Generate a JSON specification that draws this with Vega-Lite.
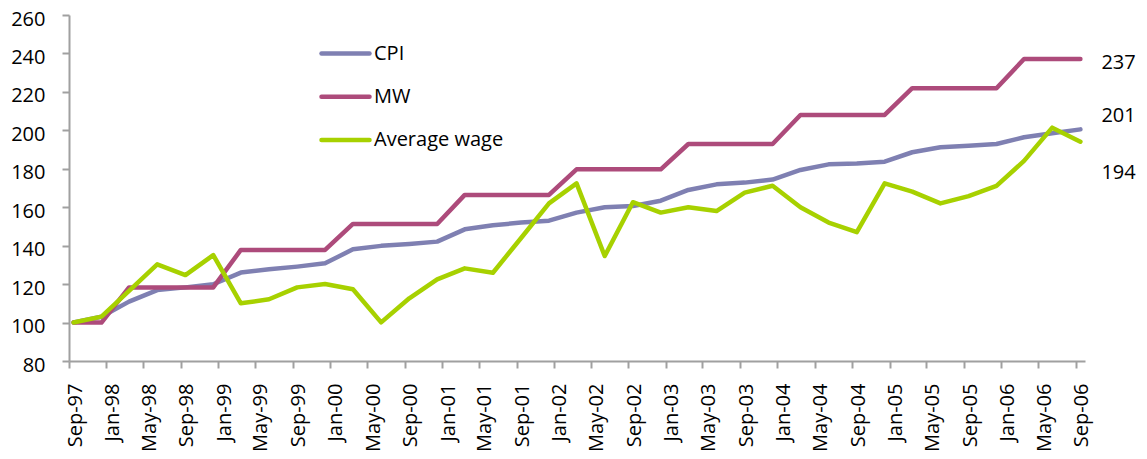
{
  "$schema": "https://vega.github.io/schema/vega-lite/v6.json",
  "width": 1016,
  "height": 346,
  "autosize": {"type": "none"},
  "padding": {"left": 69, "top": 15, "right": 62, "bottom": 98},
  "background": "white",
  "config": {"view": {"stroke": null}, "font": "Open Sans"},
  "layer": [
    {
      "data": {
        "values": [
          {"date": "1997-09-16T00:00:00", "CPI": 100.0, "MW": 100.0, "Average wage": 100.0},
          {"date": "1997-12-16T00:00:00", "CPI": 103.0, "MW": 100.0, "Average wage": 103.1},
          {"date": "1998-03-16T00:00:00", "CPI": 110.9, "MW": 118.3, "Average wage": 116.5},
          {"date": "1998-06-16T00:00:00", "CPI": 116.9, "MW": 118.3, "Average wage": 130.3},
          {"date": "1998-09-16T00:00:00", "CPI": 118.3, "MW": 118.3, "Average wage": 124.7},
          {"date": "1998-12-16T00:00:00", "CPI": 119.9, "MW": 118.3, "Average wage": 135.1},
          {"date": "1999-03-16T00:00:00", "CPI": 126.0, "MW": 137.8, "Average wage": 110.0},
          {"date": "1999-06-16T00:00:00", "CPI": 127.7, "MW": 137.8, "Average wage": 112.1},
          {"date": "1999-09-16T00:00:00", "CPI": 129.1, "MW": 137.8, "Average wage": 118.3},
          {"date": "1999-12-16T00:00:00", "CPI": 130.8, "MW": 137.8, "Average wage": 120.1},
          {"date": "2000-03-16T00:00:00", "CPI": 138.1, "MW": 151.3, "Average wage": 117.3},
          {"date": "2000-06-16T00:00:00", "CPI": 139.9, "MW": 151.3, "Average wage": 100.1},
          {"date": "2000-09-16T00:00:00", "CPI": 140.9, "MW": 151.3, "Average wage": 112.6},
          {"date": "2000-12-16T00:00:00", "CPI": 142.1, "MW": 151.3, "Average wage": 122.5},
          {"date": "2001-03-16T00:00:00", "CPI": 148.5, "MW": 166.4, "Average wage": 128.2},
          {"date": "2001-06-16T00:00:00", "CPI": 150.6, "MW": 166.4, "Average wage": 125.9},
          {"date": "2001-09-16T00:00:00", "CPI": 152.0, "MW": 166.4, "Average wage": 144.0},
          {"date": "2001-12-16T00:00:00", "CPI": 153.0, "MW": 166.4, "Average wage": 162.0},
          {"date": "2002-03-16T00:00:00", "CPI": 157.2, "MW": 179.7, "Average wage": 172.4},
          {"date": "2002-06-16T00:00:00", "CPI": 160.0, "MW": 179.7, "Average wage": 134.6},
          {"date": "2002-09-16T00:00:00", "CPI": 160.6, "MW": 179.7, "Average wage": 162.6},
          {"date": "2002-12-16T00:00:00", "CPI": 163.4, "MW": 179.7, "Average wage": 157.2},
          {"date": "2003-03-16T00:00:00", "CPI": 169.0, "MW": 192.9, "Average wage": 160.0},
          {"date": "2003-06-16T00:00:00", "CPI": 171.9, "MW": 192.9, "Average wage": 158.0},
          {"date": "2003-09-16T00:00:00", "CPI": 172.8, "MW": 192.9, "Average wage": 167.6},
          {"date": "2003-12-16T00:00:00", "CPI": 174.4, "MW": 192.9, "Average wage": 171.2},
          {"date": "2004-03-16T00:00:00", "CPI": 179.4, "MW": 208.0, "Average wage": 160.0},
          {"date": "2004-06-16T00:00:00", "CPI": 182.3, "MW": 208.0, "Average wage": 152.0},
          {"date": "2004-09-16T00:00:00", "CPI": 182.8, "MW": 208.0, "Average wage": 147.0},
          {"date": "2004-12-16T00:00:00", "CPI": 183.7, "MW": 208.0, "Average wage": 172.4},
          {"date": "2005-03-16T00:00:00", "CPI": 188.6, "MW": 221.9, "Average wage": 168.1},
          {"date": "2005-06-16T00:00:00", "CPI": 191.2, "MW": 221.9, "Average wage": 162.0},
          {"date": "2005-09-16T00:00:00", "CPI": 192.0, "MW": 221.9, "Average wage": 165.8},
          {"date": "2005-12-16T00:00:00", "CPI": 192.9, "MW": 221.9, "Average wage": 171.1},
          {"date": "2006-03-16T00:00:00", "CPI": 196.4, "MW": 237.1, "Average wage": 184.1},
          {"date": "2006-06-16T00:00:00", "CPI": 198.5, "MW": 237.1, "Average wage": 201.4},
          {"date": "2006-09-16T00:00:00", "CPI": 200.5, "MW": 237.1, "Average wage": 194.1}
        ]
      },
      "transform": [{"fold": ["CPI", "MW", "Average wage"], "as": ["series", "value"]}],
      "mark": {"type": "line", "strokeWidth": 4.5, "strokeCap": "round", "strokeJoin": "round"},
      "encoding": {
        "x": {
          "field": "date",
          "type": "temporal",
          "scale": {"domain": [{"year": 1997, "month": 9, "date": 1}, {"year": 2006, "month": 10, "date": 1}]},
          "axis": {
            "title": null,
            "grid": false,
            "tickCount": 100,
            "values": [
              {"year": 1997, "month": 9, "date": 1}, {"year": 1998, "month": 1, "date": 1}, {"year": 1998, "month": 5, "date": 1}, {"year": 1998, "month": 9, "date": 1},
              {"year": 1999, "month": 1, "date": 1}, {"year": 1999, "month": 5, "date": 1}, {"year": 1999, "month": 9, "date": 1},
              {"year": 2000, "month": 1, "date": 1}, {"year": 2000, "month": 5, "date": 1}, {"year": 2000, "month": 9, "date": 1},
              {"year": 2001, "month": 1, "date": 1}, {"year": 2001, "month": 5, "date": 1}, {"year": 2001, "month": 9, "date": 1},
              {"year": 2002, "month": 1, "date": 1}, {"year": 2002, "month": 5, "date": 1}, {"year": 2002, "month": 9, "date": 1},
              {"year": 2003, "month": 1, "date": 1}, {"year": 2003, "month": 5, "date": 1}, {"year": 2003, "month": 9, "date": 1},
              {"year": 2004, "month": 1, "date": 1}, {"year": 2004, "month": 5, "date": 1}, {"year": 2004, "month": 9, "date": 1},
              {"year": 2005, "month": 1, "date": 1}, {"year": 2005, "month": 5, "date": 1}, {"year": 2005, "month": 9, "date": 1},
              {"year": 2006, "month": 1, "date": 1}, {"year": 2006, "month": 5, "date": 1}, {"year": 2006, "month": 9, "date": 1}
            ],
            "format": "%b-%y",
            "labelAngle": -90,
            "labelAlign": "right",
            "labelBaseline": "middle",
            "labelOffset": 6,
            "labelPadding": 15,
            "labelOverlap": false,
            "labelFlush": false,
            "labelFont": "Open Sans",
            "labelFontSize": 20,
            "labelColor": "#000000",
            "tickSize": 7,
            "tickWidth": 2,
            "tickColor": "#A0A0A0",
            "domainColor": "#A0A0A0",
            "domainWidth": 2
          }
        },
        "y": {
          "field": "value",
          "type": "quantitative",
          "scale": {"domain": [80, 260], "nice": false, "zero": false},
          "axis": {
            "title": null,
            "grid": false,
            "tickCount": 100,
            "values": [80, 100, 120, 140, 160, 180, 200, 220, 240, 260],
            "labelFont": "Open Sans",
            "labelFontSize": 20,
            "labelColor": "#000000",
            "labelPadding": 17,
            "labelOffset": 4,
            "labelOverlap": false,
            "labelFlush": false,
            "tickSize": 7,
            "tickWidth": 2,
            "tickColor": "#A0A0A0",
            "domainColor": "#A0A0A0",
            "domainWidth": 2
          }
        },
        "color": {
          "field": "series",
          "type": "nominal",
          "scale": {"domain": ["CPI", "MW", "Average wage"], "range": ["#7F80B2", "#AD4B7B", "#A7D100"]},
          "legend": {
            "title": null,
            "orient": "none",
            "legendX": 262,
            "legendY": 24,
            "padding": 0,
            "symbolType": "M-2,0L2,0",
            "symbolSize": 576,
            "symbolStrokeWidth": 4.5,
            "labelOffset": 14,
            "rowPadding": 18.3,
            "labelFont": "Open Sans",
            "labelFontSize": 20,
            "labelColor": "#000000",
            "encode": {"symbols": {"update": {"strokeCap": {"value": "round"}}}}
          }
        }
      }
    },
    {
      "data": {
        "values": [
          {"date": "2006-09-16T00:00:00", "label": "237", "pos": 235.2},
          {"date": "2006-09-16T00:00:00", "label": "201", "pos": 207.5},
          {"date": "2006-09-16T00:00:00", "label": "194", "pos": 177.7}
        ]
      },
      "mark": {"type": "text", "align": "left", "baseline": "middle", "dx": 21, "font": "Open Sans", "fontSize": 20, "color": "#000000"},
      "encoding": {
        "x": {"field": "date", "type": "temporal"},
        "y": {"field": "pos", "type": "quantitative"},
        "text": {"field": "label"}
      }
    }
  ]
}
